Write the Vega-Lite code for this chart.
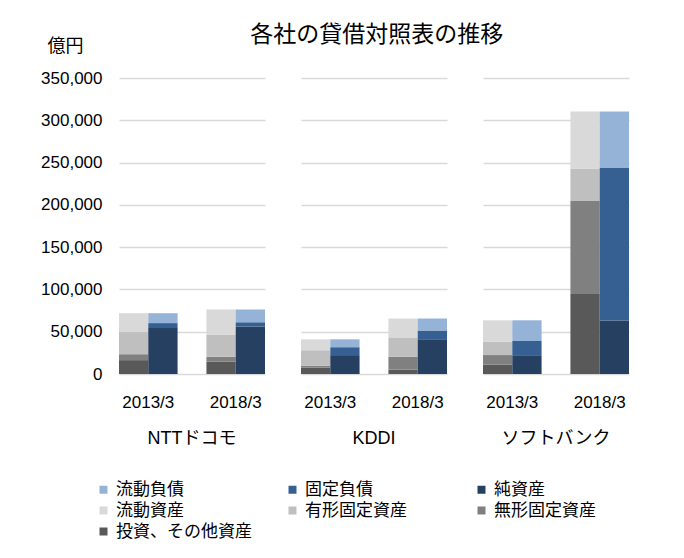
{
  "$schema": "https://vega.github.io/schema/vega-lite/v6.json",
  "padding": {"left": 40, "top": 24, "right": 10, "bottom": 5},
  "title": {
    "text": "各社の貸借対照表の推移",
    "anchor": "middle",
    "fontSize": 23,
    "fontWeight": "normal",
    "color": "#000000",
    "offset": -10,
    "dx": 42
  },
  "data": {
    "values": [
      {"company": "NTTドコモ", "year": "2013/3", "side": "資産", "item": "投資、その他資産", "ord": 1, "value": 16400},
      {"company": "NTTドコモ", "year": "2013/3", "side": "資産", "item": "無形固定資産", "ord": 2, "value": 7000},
      {"company": "NTTドコモ", "year": "2013/3", "side": "資産", "item": "有形固定資産", "ord": 3, "value": 26200},
      {"company": "NTTドコモ", "year": "2013/3", "side": "資産", "item": "流動資産", "ord": 4, "value": 22300},
      {"company": "NTTドコモ", "year": "2013/3", "side": "負債純資産", "item": "純資産", "ord": 1, "value": 54300},
      {"company": "NTTドコモ", "year": "2013/3", "side": "負債純資産", "item": "固定負債", "ord": 2, "value": 5900},
      {"company": "NTTドコモ", "year": "2013/3", "side": "負債純資産", "item": "流動負債", "ord": 3, "value": 11700},
      {"company": "NTTドコモ", "year": "2018/3", "side": "資産", "item": "投資、その他資産", "ord": 1, "value": 14500},
      {"company": "NTTドコモ", "year": "2018/3", "side": "資産", "item": "無形固定資産", "ord": 2, "value": 5900},
      {"company": "NTTドコモ", "year": "2018/3", "side": "資産", "item": "有形固定資産", "ord": 3, "value": 25800},
      {"company": "NTTドコモ", "year": "2018/3", "side": "資産", "item": "流動資産", "ord": 4, "value": 30100},
      {"company": "NTTドコモ", "year": "2018/3", "side": "負債純資産", "item": "純資産", "ord": 1, "value": 56200},
      {"company": "NTTドコモ", "year": "2018/3", "side": "負債純資産", "item": "固定負債", "ord": 2, "value": 5100},
      {"company": "NTTドコモ", "year": "2018/3", "side": "負債純資産", "item": "流動負債", "ord": 3, "value": 14900},
      {"company": "KDDI", "year": "2013/3", "side": "資産", "item": "投資、その他資産", "ord": 1, "value": 7400},
      {"company": "KDDI", "year": "2013/3", "side": "資産", "item": "無形固定資産", "ord": 2, "value": 2300},
      {"company": "KDDI", "year": "2013/3", "side": "資産", "item": "有形固定資産", "ord": 3, "value": 18400},
      {"company": "KDDI", "year": "2013/3", "side": "資産", "item": "流動資産", "ord": 4, "value": 12900},
      {"company": "KDDI", "year": "2013/3", "side": "負債純資産", "item": "純資産", "ord": 1, "value": 22300},
      {"company": "KDDI", "year": "2013/3", "side": "負債純資産", "item": "固定負債", "ord": 2, "value": 9400},
      {"company": "KDDI", "year": "2013/3", "side": "負債純資産", "item": "流動負債", "ord": 3, "value": 9300},
      {"company": "KDDI", "year": "2018/3", "side": "資産", "item": "投資、その他資産", "ord": 1, "value": 5100},
      {"company": "KDDI", "year": "2018/3", "side": "資産", "item": "無形固定資産", "ord": 2, "value": 15200},
      {"company": "KDDI", "year": "2018/3", "side": "資産", "item": "有形固定資産", "ord": 3, "value": 23000},
      {"company": "KDDI", "year": "2018/3", "side": "資産", "item": "流動資産", "ord": 4, "value": 22300},
      {"company": "KDDI", "year": "2018/3", "side": "負債純資産", "item": "純資産", "ord": 1, "value": 41000},
      {"company": "KDDI", "year": "2018/3", "side": "負債純資産", "item": "固定負債", "ord": 2, "value": 10500},
      {"company": "KDDI", "year": "2018/3", "side": "負債純資産", "item": "流動負債", "ord": 3, "value": 14100},
      {"company": "ソフトバンク", "year": "2013/3", "side": "資産", "item": "投資、その他資産", "ord": 1, "value": 11200},
      {"company": "ソフトバンク", "year": "2013/3", "side": "資産", "item": "無形固定資産", "ord": 2, "value": 11200},
      {"company": "ソフトバンク", "year": "2013/3", "side": "資産", "item": "有形固定資産", "ord": 3, "value": 16000},
      {"company": "ソフトバンク", "year": "2013/3", "side": "資産", "item": "流動資産", "ord": 4, "value": 25100},
      {"company": "ソフトバンク", "year": "2013/3", "side": "負債純資産", "item": "純資産", "ord": 1, "value": 22200},
      {"company": "ソフトバンク", "year": "2013/3", "side": "負債純資産", "item": "固定負債", "ord": 2, "value": 16800},
      {"company": "ソフトバンク", "year": "2013/3", "side": "負債純資産", "item": "流動負債", "ord": 3, "value": 24500},
      {"company": "ソフトバンク", "year": "2018/3", "side": "資産", "item": "投資、その他資産", "ord": 1, "value": 94500},
      {"company": "ソフトバンク", "year": "2018/3", "side": "資産", "item": "無形固定資産", "ord": 2, "value": 110100},
      {"company": "ソフトバンク", "year": "2018/3", "side": "資産", "item": "有形固定資産", "ord": 3, "value": 38300},
      {"company": "ソフトバンク", "year": "2018/3", "side": "資産", "item": "流動資産", "ord": 4, "value": 67600},
      {"company": "ソフトバンク", "year": "2018/3", "side": "負債純資産", "item": "純資産", "ord": 1, "value": 63300},
      {"company": "ソフトバンク", "year": "2018/3", "side": "負債純資産", "item": "固定負債", "ord": 2, "value": 180800},
      {"company": "ソフトバンク", "year": "2018/3", "side": "負債純資産", "item": "流動負債", "ord": 3, "value": 66400}
    ]
  },
  "facet": {
    "column": {
      "field": "company",
      "type": "nominal",
      "sort": ["NTTドコモ", "KDDI", "ソフトバンク"],
      "title": null,
      "header": {
        "labelOrient": "bottom",
        "labelFontSize": 18,
        "labelColor": "#000000",
        "labelPadding": 20
      }
    }
  },
  "spacing": 36,
  "spec": {
    "width": 146,
    "height": 296,
    "mark": {"type": "bar"},
    "encoding": {
      "x": {
        "field": "year",
        "type": "nominal",
        "title": null,
        "scale": {"paddingInner": 0.33, "paddingOuter": 0},
        "axis": {
          "labelAngle": 0,
          "labelFontSize": 17,
          "labelColor": "#000000",
          "labelPadding": 20,
          "domain": false,
          "ticks": false
        }
      },
      "xOffset": {
        "field": "side",
        "type": "nominal",
        "sort": ["資産", "負債純資産"],
        "scale": {"paddingInner": 0, "paddingOuter": 0}
      },
      "y": {
        "field": "value",
        "type": "quantitative",
        "stack": "zero",
        "scale": {"domain": [0, 350000]},
        "axis": {
          "title": "億円",
          "titleAngle": 0,
          "titleAlign": "left",
          "titleBaseline": "middle",
          "titleX": -72,
          "titleY": -32,
          "titleFontSize": 18,
          "titleFontWeight": "normal",
          "titleColor": "#000000",
          "values": [0, 50000, 100000, 150000, 200000, 250000, 300000, 350000],
          "format": ",d",
          "labelFontSize": 17,
          "labelColor": "#000000",
          "labelPadding": 17,
          "domain": false,
          "ticks": false,
          "gridColor": "#d9d9d9",
          "gridWidth": 1.5
        }
      },
      "color": {
        "field": "item",
        "type": "nominal",
        "scale": {
          "domain": ["流動負債", "固定負債", "純資産", "流動資産", "有形固定資産", "無形固定資産", "投資、その他資産"],
          "range": ["#95b3d7", "#376092", "#254061", "#d9d9d9", "#bfbfbf", "#808080", "#595959"]
        },
        "legend": {
          "title": null,
          "orient": "none",
          "legendX": -24,
          "legendY": 403,
          "direction": "horizontal",
          "columns": 3,
          "gridAlign": "all",
          "columnPadding": 32,
          "rowPadding": 3,
          "symbolType": "square",
          "symbolSize": 64,
          "symbolStrokeWidth": 0,
          "labelFontSize": 17,
          "labelColor": "#000000",
          "labelOffset": 4,
          "labelLimit": 200
        }
      },
      "order": {"field": "ord", "type": "quantitative"}
    }
  },
  "config": {
    "font": "Liberation Sans, Noto Sans CJK JP",
    "view": {"stroke": null}
  }
}
